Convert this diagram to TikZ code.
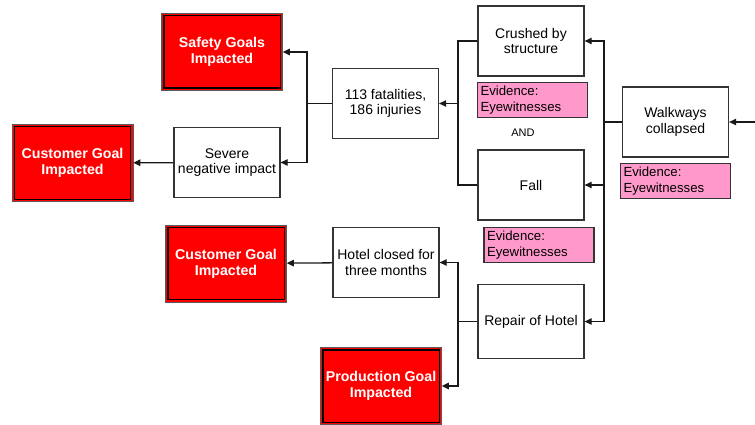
\documentclass[tikz,border=0pt]{standalone}
\usepackage{fontspec}
\setmainfont{Liberation Sans}
\usetikzlibrary{arrows.meta}
\definecolor{evpink}{HTML}{FF99CC}

\begin{document}
\begin{tikzpicture}[x=1pt,y=-1pt,>={Stealth[length=7pt,width=6.5pt,inset=0pt]},
  font=\fontsize{14}{15.7}\selectfont,
  box/.style={draw=black!80,line width=1.3pt,fill=white,minimum width=106pt,minimum height=70pt,align=center,inner sep=1pt},
  goal/.style={draw=black!65,line width=0.6pt,fill=red,text=white,
    font=\fontsize{14.2}{15.7}\selectfont\bfseries,minimum width=121pt,minimum height=77pt,align=center,inner sep=1pt},
  evid/.style={draw=black!80,line width=1.3pt,fill=evpink,text width=104pt,align=left,minimum height=35pt,
    inner sep=3pt,font=\fontsize{13.2}{16.7}\selectfont},
  link/.style={line width=1.3pt,black!90}]
\useasboundingbox (0,0) rectangle (755,425);

% goals
\node[goal] (safety) at (222,52) {Safety Goals\\Impacted};
\node[goal] (cust1) at (72.5,163) {Customer Goal\\Impacted};
\node[goal] (cust2) at (226,263.5) {Customer Goal\\Impacted};
\node[goal] (prod) at (381,386) {Production Goal\\Impacted};
\foreach \g in {safety,cust1,cust2,prod}
  \draw[line width=1.4pt] ([shift={(2.6,2.6)}]\g.north west) rectangle ([shift={(-2.6,-2.6)}]\g.south east);

% events
\node[box] (fat) at (385.5,103.5) {113 fatalities,\\186 injuries};
\node[box] (severe) at (227,162.5) {Severe\\negative impact};
\node[box] (crushed) at (531,41) {Crushed by\\structure};
\node[box] (fall) at (531,185) {Fall};
\node[box] (walk) at (675.5,122) {Walkways\\collapsed};
\node[box,minimum height=74pt] (repair) at (531,321.5) {Repair of Hotel};
\node[box] (hotel) at (386,262.5) {Hotel closed for\\three months};

% evidence
\node[evid] (ev1) at (532.5,100) {Evidence:\\Eyewitnesses};
\node[evid] (ev2) at (675.5,181) {Evidence:\\Eyewitnesses};
\node[evid] (ev3) at (539,245) {Evidence:\\Eyewitnesses};
\node[font=\fontsize{11}{13}\selectfont] (andgate) at (523,133) {AND};

% junctions
\coordinate (j1) at (307,103.5);
\coordinate (j2) at (458,103.5);
\coordinate (j3) at (604,122);
\coordinate (j4) at (458,321.5);
\coordinate (entry) at (755,122);

\draw[link,->] (entry) -- (walk);
\draw[link] (walk) -- (j3);
\draw[link,->] (j3) |- (crushed);
\draw[link,->] (j3) |- (fall);
\draw[link,->] (j3) |- (repair);
\draw[link] (crushed) -| (j2);
\draw[link] (fall) -| (j2);
\draw[link,->] (j2) -- (fat);
\draw[link] (fat) -- (j1);
\draw[link,->] (j1) |- (safety);
\draw[link,->] (j1) |- (severe);
\draw[link,->] (severe) -- (cust1);
\draw[link] (repair) -- (j4);
\draw[link,->] (j4) |- (hotel);
\draw[link,->] (j4) |- (prod);
\draw[link,->] (hotel) -- (cust2);
\end{tikzpicture}
\end{document}
